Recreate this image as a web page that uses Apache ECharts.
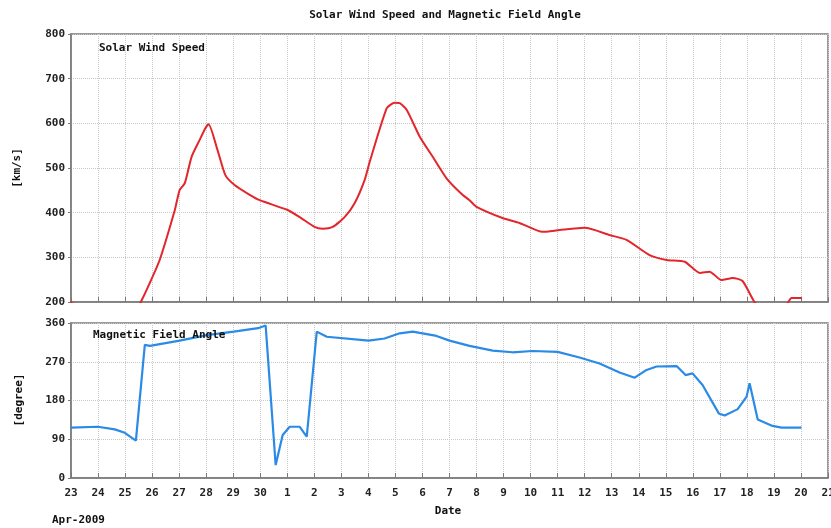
<!DOCTYPE html>
<html>
<head>
<meta charset="utf-8">
<script src="https://cdn.jsdelivr.net/npm/echarts@6/dist/echarts.min.js"></script>
<style>
  html, body { margin: 0; padding: 0; background: #fff; }
  #chart { width: 831px; height: 528px; }
</style>
</head>
<body>
<div id="chart"></div>
<script>
// x values are days after Apr 23 2009 (0 = Apr 23, 28 = May 21)
var dayLabels = ['23', '24', '25', '26', '27', '28', '29', '30', '1', '2', '3', '4', '5', '6',
  '7', '8', '9', '10', '11', '12', '13', '14', '15', '16', '17', '18', '19', '20', '21'];

// solar wind speed [km/s]
var speedDays = [0, 0.17, 1.43, 2.36, 2.58, 2.91, 3.28, 3.84, 4.02, 4.21, 4.46, 4.76, 4.98, 5.09,
  5.42, 5.71, 6.05, 6.61, 6.98, 8.01, 8.46, 9.01, 9.31, 9.68, 10.12, 10.49, 10.86, 11.05, 11.68,
  11.97, 12.16, 12.42, 12.90, 13.38, 13.89, 14.48, 14.74, 15.0, 15.96, 16.59, 17.44, 18.07, 19.0,
  19.92, 20.55, 21.40, 22.03, 22.7, 23.26, 23.62, 24.06, 24.47, 24.84, 25.28, 25.65, 26.39, 26.53,
  26.65, 27.03];
var speedValues = [202, 185, 170, 185, 200, 242, 294, 406, 451, 466, 525, 563, 590, 598,
  540, 484, 462, 440, 428, 406, 390, 368, 364, 368, 390, 421, 473, 514, 634,
  646, 645, 630, 570, 525, 477, 440, 428, 413, 388, 377, 357, 361, 366,
  350, 339, 305, 294, 290, 265, 268, 249, 254, 247, 200, 180, 185, 200,
  209, 209];

// magnetic field angle [degree]
var angleDays = [0, 0.99, 1.62, 1.99, 2.40, 2.73, 2.92, 4.02, 5.02, 6.02, 6.92, 7.20, 7.57, 7.83,
  8.09, 8.46, 8.72, 9.09, 9.46, 11.01, 11.60, 12.16, 12.64, 12.90, 13.52, 14.0, 14.74, 15.60,
  16.33, 17.07, 18.0, 18.81, 19.55, 20.29, 20.85, 21.29, 21.66, 22.40, 22.73, 22.99, 23.36,
  23.96, 24.18, 24.66, 24.99, 25.10, 25.40, 25.95, 26.28, 27.02];
var angleValues = [117, 119, 113, 105, 87, 309, 307, 319, 332, 340, 348, 354, 30, 100,
  119, 119, 96, 340, 328, 319, 324, 336, 340, 337, 330, 319, 307, 296,
  292, 295, 293, 280, 266, 245, 233, 251, 259, 260, 239, 243, 216,
  150, 145, 160, 189, 220, 136, 121, 117, 117];

var speedTicks = [200, 300, 400, 500, 600, 700, 800];
var angleTicks = [0, 90, 180, 270, 360];

function pairs(xs, ys) {
  var out = [];
  for (var i = 0; i < xs.length; i++) out.push([xs[i], ys[i]]);
  return out;
}

var FONT = '"DejaVu Sans Mono", monospace';
var frameColor = '#7a7a7a';
var gridLine = { show: true, lineStyle: { color: '#c8c8c8', type: 'dotted', width: 1 } };

var myChart = echarts.init(document.getElementById('chart'));

function xAxisOf(gridIndex, showLabels) {
  return {
    type: 'value', gridIndex: gridIndex, min: 0, max: 28, interval: 1,
    axisLine: { show: true, onZero: false, lineStyle: { color: frameColor, width: 1.5 } },
    axisTick: { show: true, inside: true, length: 5, lineStyle: { color: frameColor } },
    axisLabel: {
      show: showLabels, margin: 10, color: '#222', fontFamily: FONT, fontWeight: 'bold', fontSize: 11,
      formatter: function (v) { return dayLabels[Math.round(v)]; }
    },
    splitLine: gridLine
  };
}

function yAxisOf(gridIndex, ticks) {
  return {
    type: 'value', gridIndex: gridIndex, min: ticks[0], max: ticks[ticks.length - 1],
    interval: ticks[1] - ticks[0],
    axisLine: { show: true, lineStyle: { color: frameColor, width: 1.5 } },
    axisTick: { show: true, length: 3, lineStyle: { color: frameColor } },
    axisLabel: { color: '#222', fontFamily: FONT, fontWeight: 'bold', fontSize: 11, margin: 6 },
    splitLine: gridLine
  };
}

function label(x, y, text, extra) {
  var st = { text: text, fill: '#111', font: 'bold 11px ' + FONT };
  for (var k in extra) st[k] = extra[k];
  return { type: 'text', x: x, y: y, style: st, z: 100 };
}

myChart.setOption({
  animation: false,
  backgroundColor: '#fff',
  grid: [
    { left: 71, right: 3, top: 34, height: 268, show: true, borderColor: frameColor, borderWidth: 1.5,
      outerBoundsMode: 'none', containLabel: false },
    { left: 71, right: 3, top: 323, height: 155, show: true, borderColor: frameColor, borderWidth: 1.5,
      outerBoundsMode: 'none', containLabel: false }
  ],
  xAxis: [xAxisOf(0, false), xAxisOf(1, true)],
  yAxis: [yAxisOf(0, speedTicks), yAxisOf(1, angleTicks)],
  graphic: [
    label(445, 10, 'Solar Wind Speed and Magnetic Field Angle', { align: 'center' }),
    label(99, 43, 'Solar Wind Speed', {}),
    label(93, 330, 'Magnetic Field Angle', {}),
    label(448, 506, 'Date', { align: 'center' }),
    label(52, 515, 'Apr-2009', {}),
    { type: 'text', x: 17, y: 168, rotation: Math.PI / 2, z: 100,
      style: { text: '[km/s]', fill: '#111', font: 'bold 11px ' + FONT, align: 'center', verticalAlign: 'middle' } },
    { type: 'text', x: 19, y: 400, rotation: Math.PI / 2, z: 100,
      style: { text: '[degree]', fill: '#111', font: 'bold 11px ' + FONT, align: 'center', verticalAlign: 'middle' } }
  ],
  series: [
    {
      type: 'line', xAxisIndex: 0, yAxisIndex: 0, data: pairs(speedDays, speedValues),
      showSymbol: false, clip: true, smooth: 0.2, lineStyle: { color: '#e3262b', width: 2 }
    },
    {
      type: 'line', xAxisIndex: 1, yAxisIndex: 1, data: pairs(angleDays, angleValues),
      showSymbol: false, clip: true, lineStyle: { color: '#2a8be6', width: 2.2 }
    }
  ]
});
</script>
</body>
</html>
